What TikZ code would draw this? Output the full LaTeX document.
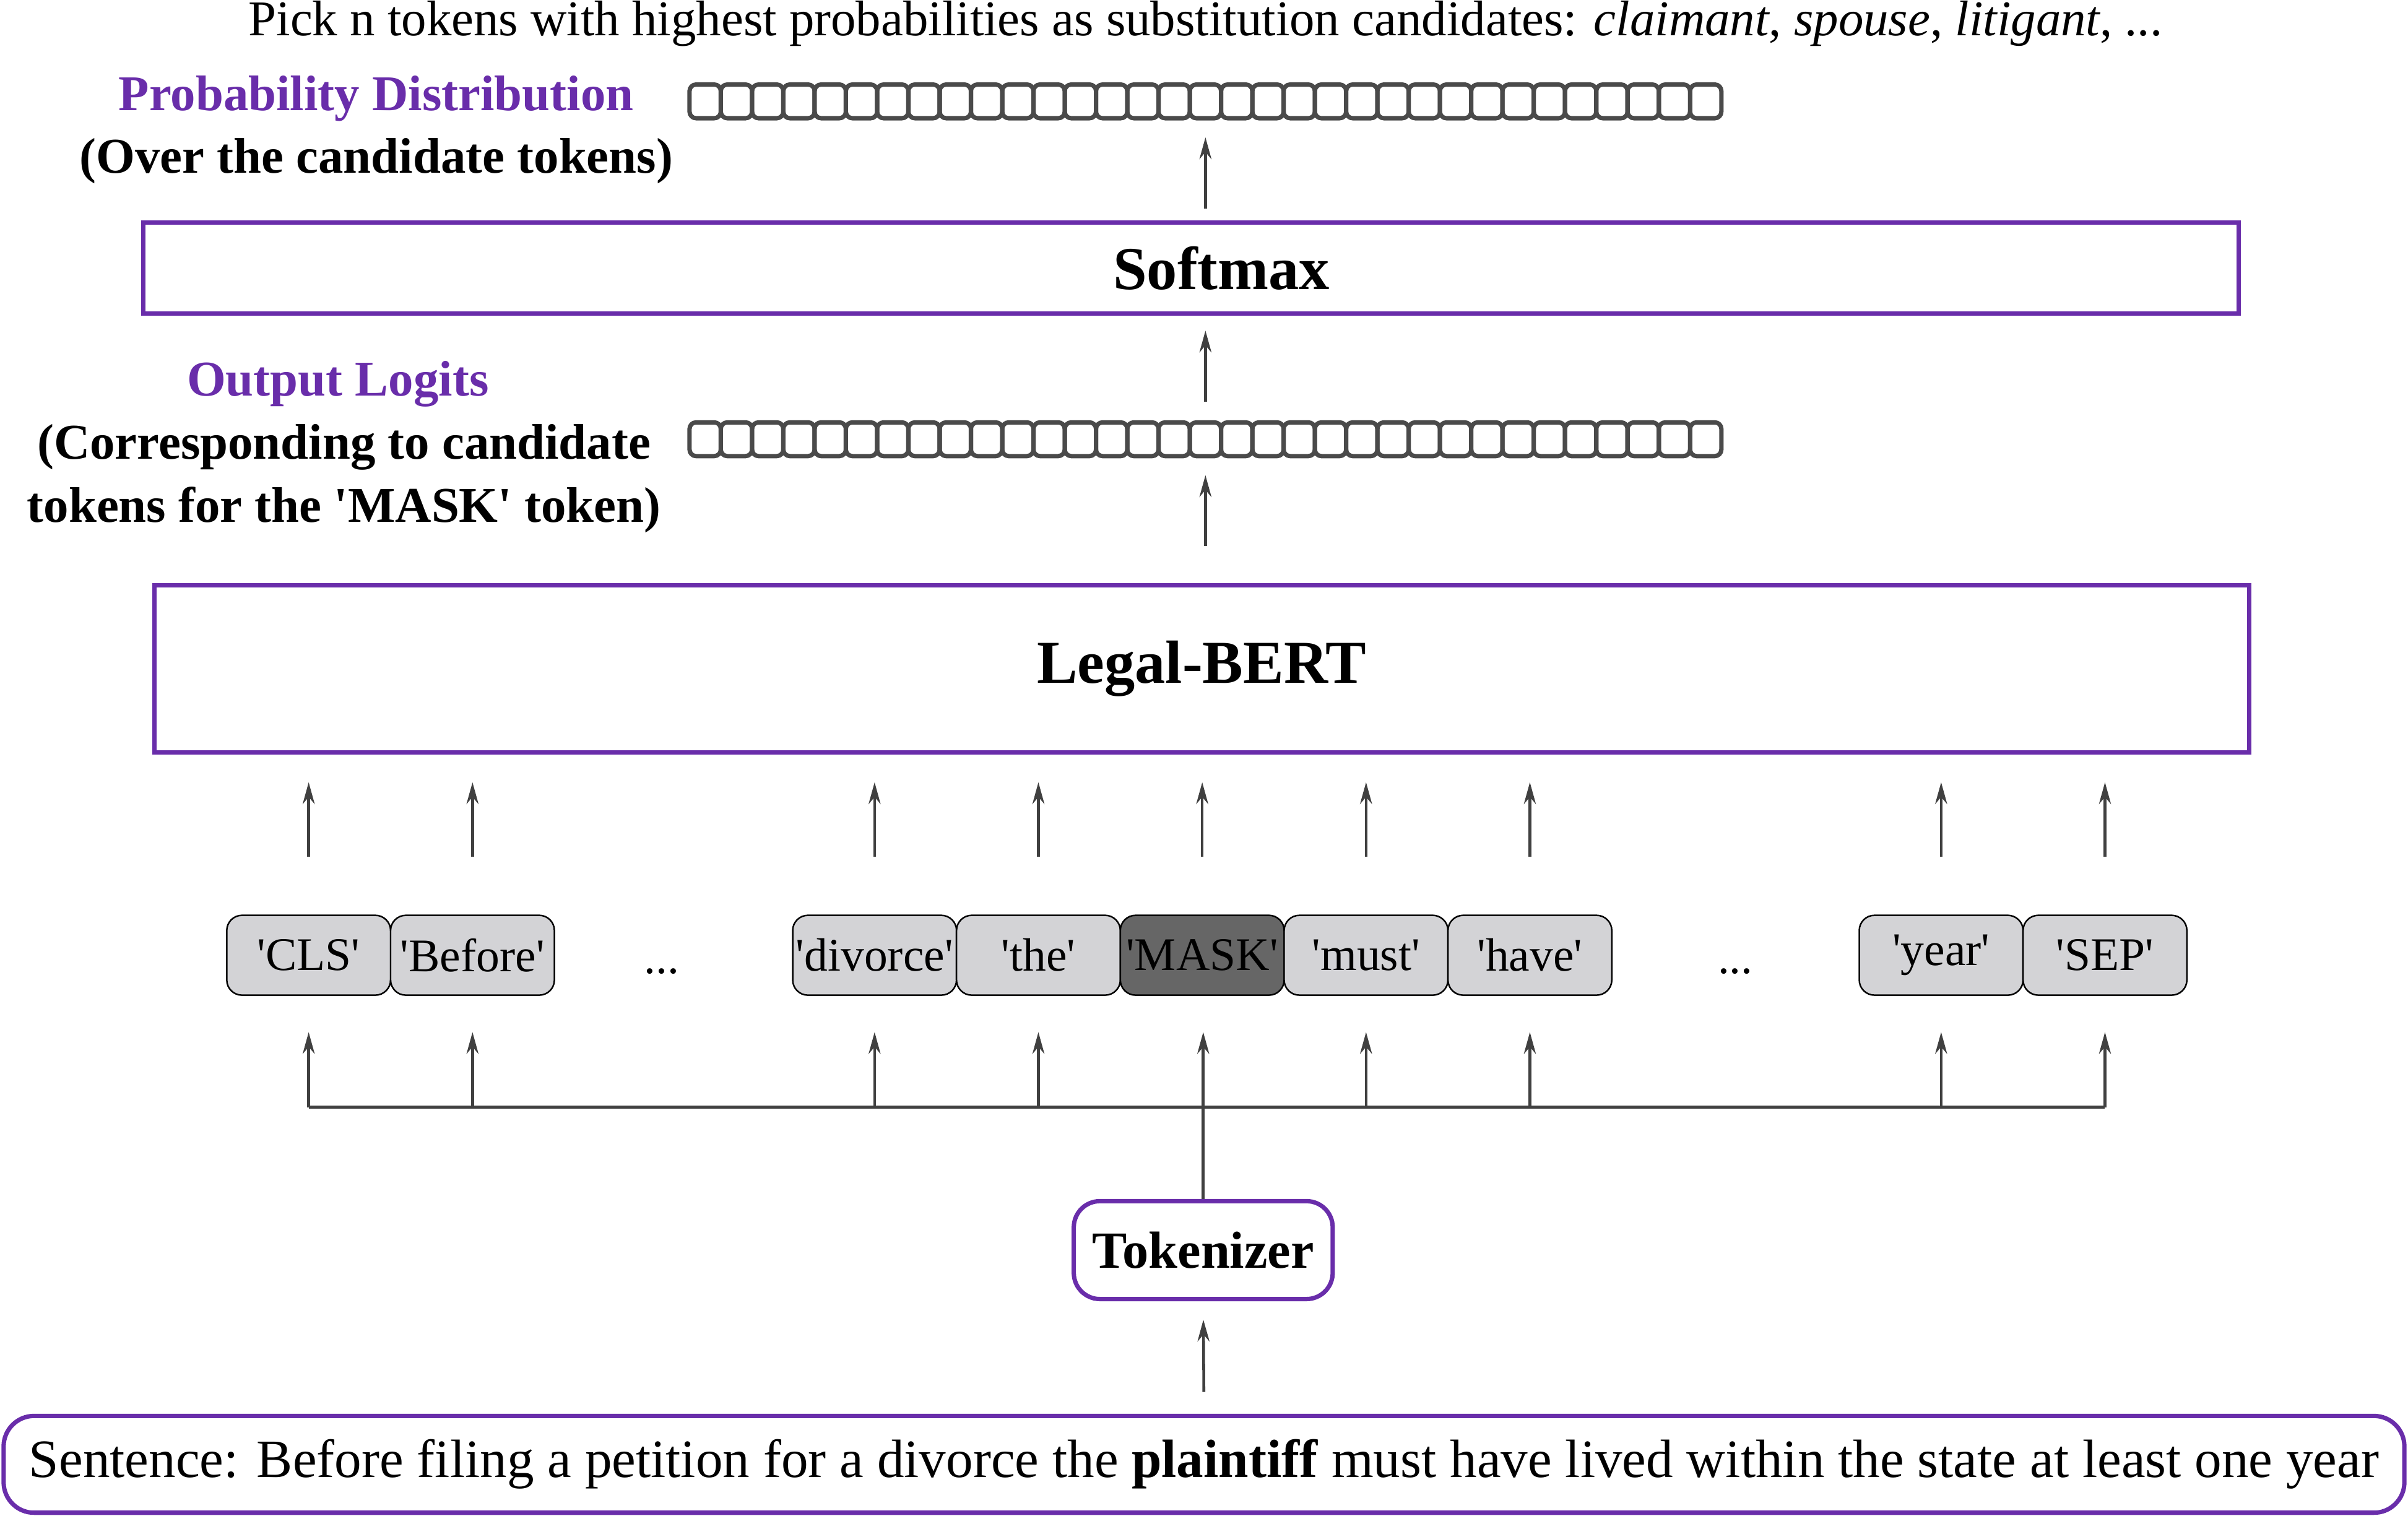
\documentclass[tikz,border=0pt]{standalone}
\usepackage{fontspec}
\setmainfont{Liberation Serif}
\usetikzlibrary{arrows.meta,positioning}
\definecolor{bertpurple}{RGB}{105,45,170}
\definecolor{tokgray}{RGB}{211,211,214}
\definecolor{maskgray}{RGB}{102,102,102}
\definecolor{cellgray}{RGB}{74,74,74}
\definecolor{arrowgray}{RGB}{64,64,64}
\newcommand{\tokq}[1]{\textquotesingle#1\textquotesingle}
\tikzset{
  layer/.style={draw=bertpurple, line width=2pt, minimum width=963pt, font=\bfseries\fontsize{28}{32}\selectfont},
  rbox/.style={draw=bertpurple, line width=2pt},
  tok/.style={draw=black, line width=0.7pt, fill=tokgray, rounded corners=7pt, minimum width=75.3pt, minimum height=36.7pt, inner sep=0pt, outer sep=0pt, font=\fontsize{21.5}{24}\selectfont},
  cell/.style={draw=cellgray, line width=2pt, rounded corners=3pt, minimum width=14.37pt, minimum height=15.5pt, inner sep=0pt},
  flow/.style={draw=arrowgray, line width=1.3pt, -{Stealth[length=10pt,width=5.5pt]}},
  wire/.style={draw=arrowgray, line width=1.3pt},
  tag/.style={font=\bfseries\fontsize{23}{29}\selectfont, text=bertpurple},
  note/.style={font=\bfseries\fontsize{23}{29}\selectfont, align=center},
}
\begin{document}
\begin{tikzpicture}[x=0.2481mm,y=-0.2481mm]
\useasboundingbox (0,0) rectangle (1568,987);
% top line
\node[font=\fontsize{23}{28}\selectfont, anchor=base] (pick) at (785,23) {Pick n tokens with highest probabilities as substitution candidates: \textit{claimant}, \textit{spouse}, \textit{litigant}, ...};
% probability vector
\node[tag] (probtag) at (245,64) {Probability Distribution};
\node[note] (probnote) at (245,105) {(Over the candidate tokens)};
\foreach \i in {0,...,32}
  \node[cell] (p\i) at ({449+20.36*(\i+0.5)},66) {};
% softmax
\node[layer, minimum height=41.6pt] (softmax) at (775.5,174.5) {\hspace*{28pt}Softmax};
% logits vector
\node[tag] (logtag) at (220,250) {Output Logits};
\node[note] (lognote) at (224,311.5) {(Corresponding to candidate\\tokens for the \tokq{MASK} token)};
\foreach \i in {0,...,32}
  \node[cell] (l\i) at ({449+20.36*(\i+0.5)},286) {};
% model
\node[layer, minimum height=76.9pt] (bert) at (782.5,435.5) {Legal-BERT};
% tokens
\node[tok] (cls) at (201,622) {\tokq{CLS}};
\node[tok, right=0pt of cls] (before) {\tokq{Before}};
\node[font=\fontsize{21.5}{24}\selectfont, anchor=base] (dotsa) at (431,634) {...};
\node[tok] (divorce) at (569.5,622) {\tokq{divorce}};
\node[tok, right=0pt of divorce] (the) {\tokq{the}};
\node[tok, right=0pt of the, fill=maskgray] (mask) {\tokq{MASK}};
\node[tok, right=0pt of mask] (must) {\tokq{must}};
\node[tok, right=0pt of must] (have) {\tokq{have}};
\node[font=\fontsize{21.5}{24}\selectfont, anchor=base] (dotsb) at (1130,634) {...};
\node[tok] (year) at (1264,622) {\tokq{year}};
\node[tok, right=0pt of year] (sep) {\tokq{SEP}};
% tokenizer and input
\node[rbox, rounded corners=12pt, minimum width=119pt, minimum height=45pt, inner xsep=5pt, font=\bfseries\fontsize{24}{28}\selectfont] (tokenizer) at (783.5,814) {Tokenizer};
\node[rbox, rounded corners=14pt, minimum width=1103.5pt, minimum height=44.5pt, font=\fontsize{24.8}{30}\selectfont] (sentence) at (784,953.5) {Sentence: Before filing a petition for a divorce the \textbf{plaintiff} must have lived within the state at least one year};
\coordinate (bus) at (783,721);
% arrows
\draw[flow, shorten <=10pt, shorten >=8.5pt] (sentence.north) -- (tokenizer.south);
\draw[flow, shorten >=17pt] (tokenizer.north) -- (tokenizer.north |- mask.south);
\draw[wire] (cls.south |- bus) -- (sep.south |- bus);
\foreach \t in {cls,before,divorce,the,must,have,year,sep}
  \draw[flow, shorten >=17pt] (\t.south |- bus) -- (\t.south);
\foreach \t in {cls,before,divorce,the,mask,must,have,year,sep}
  \draw[flow, shorten <=26.8pt, shorten >=12.7pt] (\t.north) -- (\t.north |- bert.south);
\draw[flow, shorten <=17pt, shorten >=7.8pt] (l16.south |- bert.north) -- (l16.south);
\draw[flow, shorten <=8.5pt, shorten >=7pt] (l16.north) -- (l16.north |- softmax.south);
\draw[flow, shorten <=5.6pt, shorten >=7.8pt] (p16.south |- softmax.north) -- (p16.south);
\end{tikzpicture}
\end{document}
